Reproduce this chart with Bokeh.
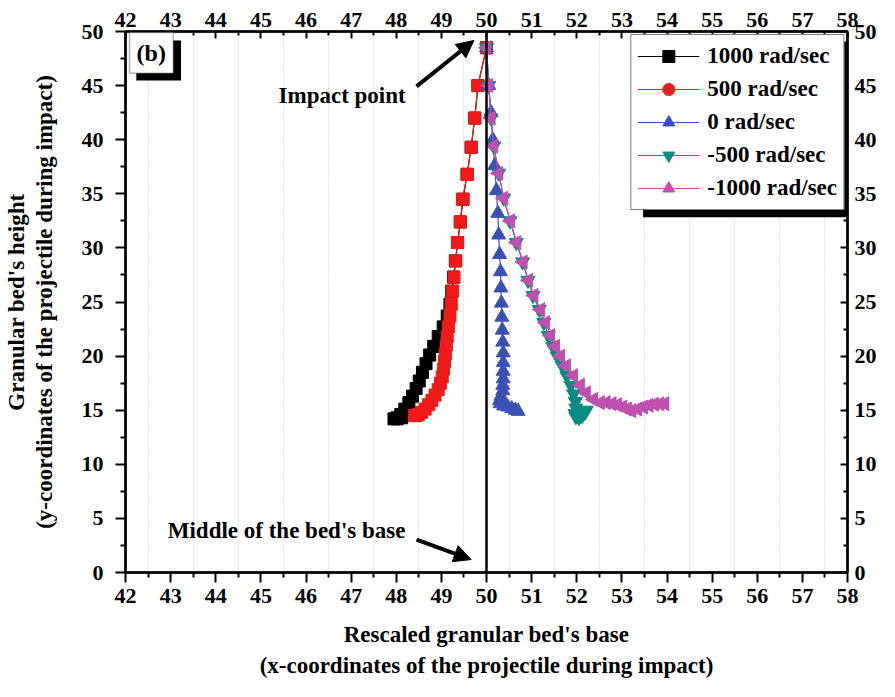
import math
from bokeh.plotting import figure
from bokeh.models import (Range1d, LinearAxis, FixedTicker, Span, Label, Arrow, NormalHead,
                          BoxAnnotation, Legend, LegendItem)
from bokeh.embed import file_html
from bokeh.resources import INLINE

# ---------------- data ----------------
x_p1000 = [50.0, 49.81, 49.74, 49.66, 49.57, 49.48, 49.42, 49.36, 49.31, 49.27, 49.23, 49.19, 49.13,
           49.04, 48.93, 48.83, 48.74, 48.66, 48.58, 48.51, 48.44, 48.36, 48.28, 48.19, 48.10, 48.02,
           47.95, 48.02, 48.12]
y_p1000 = [48.5, 45.0, 42.0, 39.3, 36.8, 34.5, 32.4, 30.5, 28.8, 27.3, 26.0, 24.8, 23.7, 22.7, 21.8,
           20.9, 20.1, 19.3, 18.5, 17.7, 17.0, 16.3, 15.7, 15.1, 14.6, 14.3, 14.2, 14.2, 14.3]

x_p500 = [50.0, 49.81, 49.74, 49.66, 49.57, 49.47, 49.42, 49.36, 49.32, 49.28, 49.25, 49.22, 49.19,
          49.16, 49.13, 49.11, 49.09, 49.07, 49.05, 49.02, 48.98, 48.93, 48.86, 48.79, 48.72, 48.64,
          48.56, 48.49, 48.44, 48.40]
y_p500 = [48.5, 45.0, 42.0, 39.3, 36.8, 34.5, 32.4, 30.5, 28.8, 27.3, 26.0, 24.8, 23.7, 22.7, 21.8,
          21.0, 20.2, 19.5, 18.8, 18.1, 17.5, 16.9, 16.4, 15.9, 15.5, 15.1, 14.8, 14.6, 14.5, 14.5]

x_0 = [50.0, 50.05, 50.10, 50.14, 50.18, 50.22, 50.25, 50.27, 50.29, 50.31, 50.32, 50.33, 50.34,
       50.35, 50.36, 50.37, 50.37, 50.37, 50.37, 50.36, 50.36, 50.32, 50.29, 50.30, 50.38, 50.47,
       50.56, 50.64, 50.70]
y_0 = [48.5, 45.0, 42.5, 40.0, 37.6, 35.3, 33.2, 31.2, 29.4, 27.8, 26.3, 24.9, 23.6, 22.4, 21.3,
       20.3, 19.4, 18.6, 17.9, 17.3, 16.8, 16.3, 15.9, 15.6, 15.4, 15.3, 15.15, 15.0, 14.9]

x_m500 = [50.0, 50.05, 50.10, 50.16, 50.27, 50.38, 50.52, 50.66, 50.80, 50.92, 51.03, 51.17, 51.27,
          51.37, 51.47, 51.57, 51.68, 51.78, 51.87, 51.93, 51.97, 51.98, 51.96, 51.98, 52.05, 52.12,
          52.18, 52.21]
y_m500 = [48.5, 45.0, 42.0, 39.4, 36.9, 34.6, 32.5, 30.5, 28.7, 27.0, 25.6, 24.3, 23.1, 21.9, 20.9,
          20.0, 19.1, 18.2, 17.3, 16.5, 15.8, 15.2, 14.7, 14.4, 14.3, 14.5, 14.8, 15.0]

x_m1000 = [50.0, 50.05, 50.10, 50.16, 50.27, 50.38, 50.53, 50.67, 50.81, 50.93, 51.05, 51.20, 51.31,
           51.42, 51.53, 51.64, 51.77, 51.93, 52.08, 52.21, 52.37, 52.52, 52.65, 52.78, 52.90, 53.02,
           53.12, 53.22, 53.35, 53.48, 53.60, 53.72, 53.84, 53.95]
y_m1000 = [48.5, 45.0, 42.0, 39.4, 36.9, 34.6, 32.5, 30.5, 28.7, 27.0, 25.6, 24.3, 23.1, 21.9, 20.9,
           20.0, 19.1, 18.2, 17.3, 16.6, 16.0, 15.7, 15.7, 15.6, 15.5, 15.3, 15.1, 14.95, 15.1, 15.3,
           15.45, 15.55, 15.6, 15.6]

series_labels = ["1000 rad/sec", "500 rad/sec", "0 rad/sec", "-500 rad/sec", "-1000 rad/sec"]
x_ticks = list(range(42, 59))
y_ticks = list(range(0, 51, 5))
grid_ticks = [t + 0.5 for t in range(42, 58)]

FONT = "Liberation Serif"

p = figure(width=879, height=681, output_backend="svg", toolbar_location=None,
           x_range=Range1d(42, 58), y_range=Range1d(0, 50),
           x_axis_location=None, y_axis_location=None,
           min_border_left=121, min_border_right=31, min_border_top=31, min_border_bottom=109)
p.outline_line_color = "black"
p.outline_line_width = 2
p.background_fill_color = "white"
p.border_fill_color = "white"

p.xgrid.ticker = FixedTicker(ticks=grid_ticks)
p.xgrid.grid_line_color = "#c4c4c4"
p.xgrid.grid_line_dash = "1 2"
p.xgrid.grid_line_width = 1
p.ygrid.grid_line_color = None


def style_axis(ax, tick_in, tick_out, minor_in, minor_out, standoff, show_labels=True):
    ax.ticker = FixedTicker(ticks=[], minor_ticks=[])
    ax.axis_line_width = 2.5
    ax.axis_line_color = "black"
    ax.major_tick_in = tick_in
    ax.major_tick_out = tick_out
    ax.minor_tick_in = minor_in
    ax.minor_tick_out = minor_out
    ax.major_tick_line_width = 2
    ax.minor_tick_line_width = 2
    ax.major_label_standoff = standoff
    ax.major_label_text_font = FONT
    ax.major_label_text_font_style = "bold"
    ax.major_label_text_font_size = "22px"
    ax.major_label_text_color = "black"
    ax.axis_label_text_font = FONT
    ax.axis_label_text_font_style = "bold"
    ax.axis_label_text_font_size = "23px"
    ax.axis_label_text_color = "black"
    if not show_labels:
        ax.major_label_text_font_size = "0px"


x_minor = [t + 0.5 for t in range(42, 58)]
y_minor = [t + 2.5 for t in range(0, 50, 5)]

bottom = LinearAxis(axis_label="Rescaled granular bed's base")
style_axis(bottom, 0, 10, 0, 5, 6)
bottom.ticker = FixedTicker(ticks=x_ticks, minor_ticks=x_minor)
bottom.axis_label_standoff = 16
p.add_layout(bottom, "below")

bottom2 = LinearAxis(axis_label="(x-coordinates of the projectile during impact)")
style_axis(bottom2, 0, 0, 0, 0, 0, show_labels=False)
bottom2.axis_line_color = None
bottom2.axis_label_standoff = 3
p.add_layout(bottom2, "below")

top = LinearAxis()
style_axis(top, 7, 0, 4, 0, 5)
top.ticker = FixedTicker(ticks=x_ticks, minor_ticks=x_minor)
p.add_layout(top, "above")

left = LinearAxis(axis_label="(y-coordinates of the projectile during impact)")
style_axis(left, 0, 10, 0, 5, 12)
left.ticker = FixedTicker(ticks=y_ticks, minor_ticks=y_minor)
left.axis_label_standoff = 22
p.add_layout(left, "left")

left2 = LinearAxis(axis_label="Granular bed's height")
style_axis(left2, 0, 0, 0, 0, 0, show_labels=False)
left2.axis_line_color = None
left2.axis_label_standoff = 0
p.add_layout(left2, "left")

right = LinearAxis()
style_axis(right, 7, 0, 4, 0, 7)
right.ticker = FixedTicker(ticks=y_ticks, minor_ticks=y_minor)
p.add_layout(right, "right")

# middle vertical line
p.add_layout(Span(location=50, dimension="height", line_color="black", line_width=2.5))

colors = ["#000000", "#f01a1a", "#3a50b4", "#0a8a82", "#c050b0"]
xs = [x_p1000, x_p500, x_0, x_m500, x_m1000]
ys = [y_p1000, y_p500, y_0, y_m500, y_m1000]
markers = ["square", "square", "triangle", "inverted_triangle", "triangle"]
angles = [0, 0, 0, 0, math.pi / 2]
sizes = [12, 12, 14, 14, 14]
legend_markers = ["square", "circle", "triangle", "inverted_triangle", "triangle"]

items = []
for i in range(5):
    ln = p.line(xs[i], ys[i], line_color=colors[i], line_width=1.2)
    p.scatter(xs[i], ys[i], marker=markers[i], size=sizes[i], angle=angles[i],
              fill_color=colors[i], line_color=colors[i])
    # hidden renderer that only provides the legend glyph
    leg = p.scatter(xs[i], ys[i], marker=legend_markers[i], size=14, angle=angles[i],
                    fill_color=colors[i], line_color=colors[i], visible=False)
    items.append(LegendItem(label=series_labels[i], renderers=[ln, leg]))

# legend shadow
p.add_layout(BoxAnnotation(left=53.47, right=58.0, top=49.08, bottom=32.84,
                           fill_color="black", fill_alpha=1, line_color=None))

legend = Legend(items=items, location="top_right", margin=3, padding=6, spacing=3,
                glyph_width=62, glyph_height=30, label_standoff=8,
                label_text_font=FONT, label_text_font_style="bold", label_text_font_size="23px",
                label_text_color="black",
                border_line_color="black", border_line_width=1.5,
                background_fill_color="white", background_fill_alpha=1)
p.add_layout(legend)

# (b) box with shadow
p.add_layout(BoxAnnotation(left=42.24, right=43.23, top=49.17, bottom=45.48,
                           fill_color="black", fill_alpha=1, line_color=None))
p.add_layout(BoxAnnotation(left=42.09, right=43.06, top=49.9, bottom=46.13,
                           fill_color="white", fill_alpha=1, line_color="black", line_width=1.5))
p.add_layout(Label(x=42.57, y=47.97, text="(b)", text_align="center", text_baseline="middle",
                   text_font=FONT, text_font_style="bold", text_font_size="24px",
                   text_color="black"))

# annotations
p.add_layout(Label(x=46.80, y=44.1, text="Impact point", text_align="center", text_baseline="middle",
                   text_font=FONT, text_font_style="bold", text_font_size="23px",
                   text_color="black"))
p.add_layout(Arrow(end=NormalHead(size=17, fill_color="black", line_color="black"),
                   x_start=48.45, y_start=44.93, x_end=49.72, y_end=49.17,
                   line_width=4, line_color="black"))
p.add_layout(Label(x=45.57, y=3.87, text="Middle of the bed's base", text_align="center",
                   text_baseline="middle", text_font=FONT, text_font_style="bold",
                   text_font_size="23px", text_color="black"))
p.add_layout(Arrow(end=NormalHead(size=17, fill_color="black", line_color="black"),
                   x_start=48.45, y_start=3.04, x_end=49.66, y_end=1.2,
                   line_width=4, line_color="black"))

open("out.html", "w").write(file_html(p, INLINE))
